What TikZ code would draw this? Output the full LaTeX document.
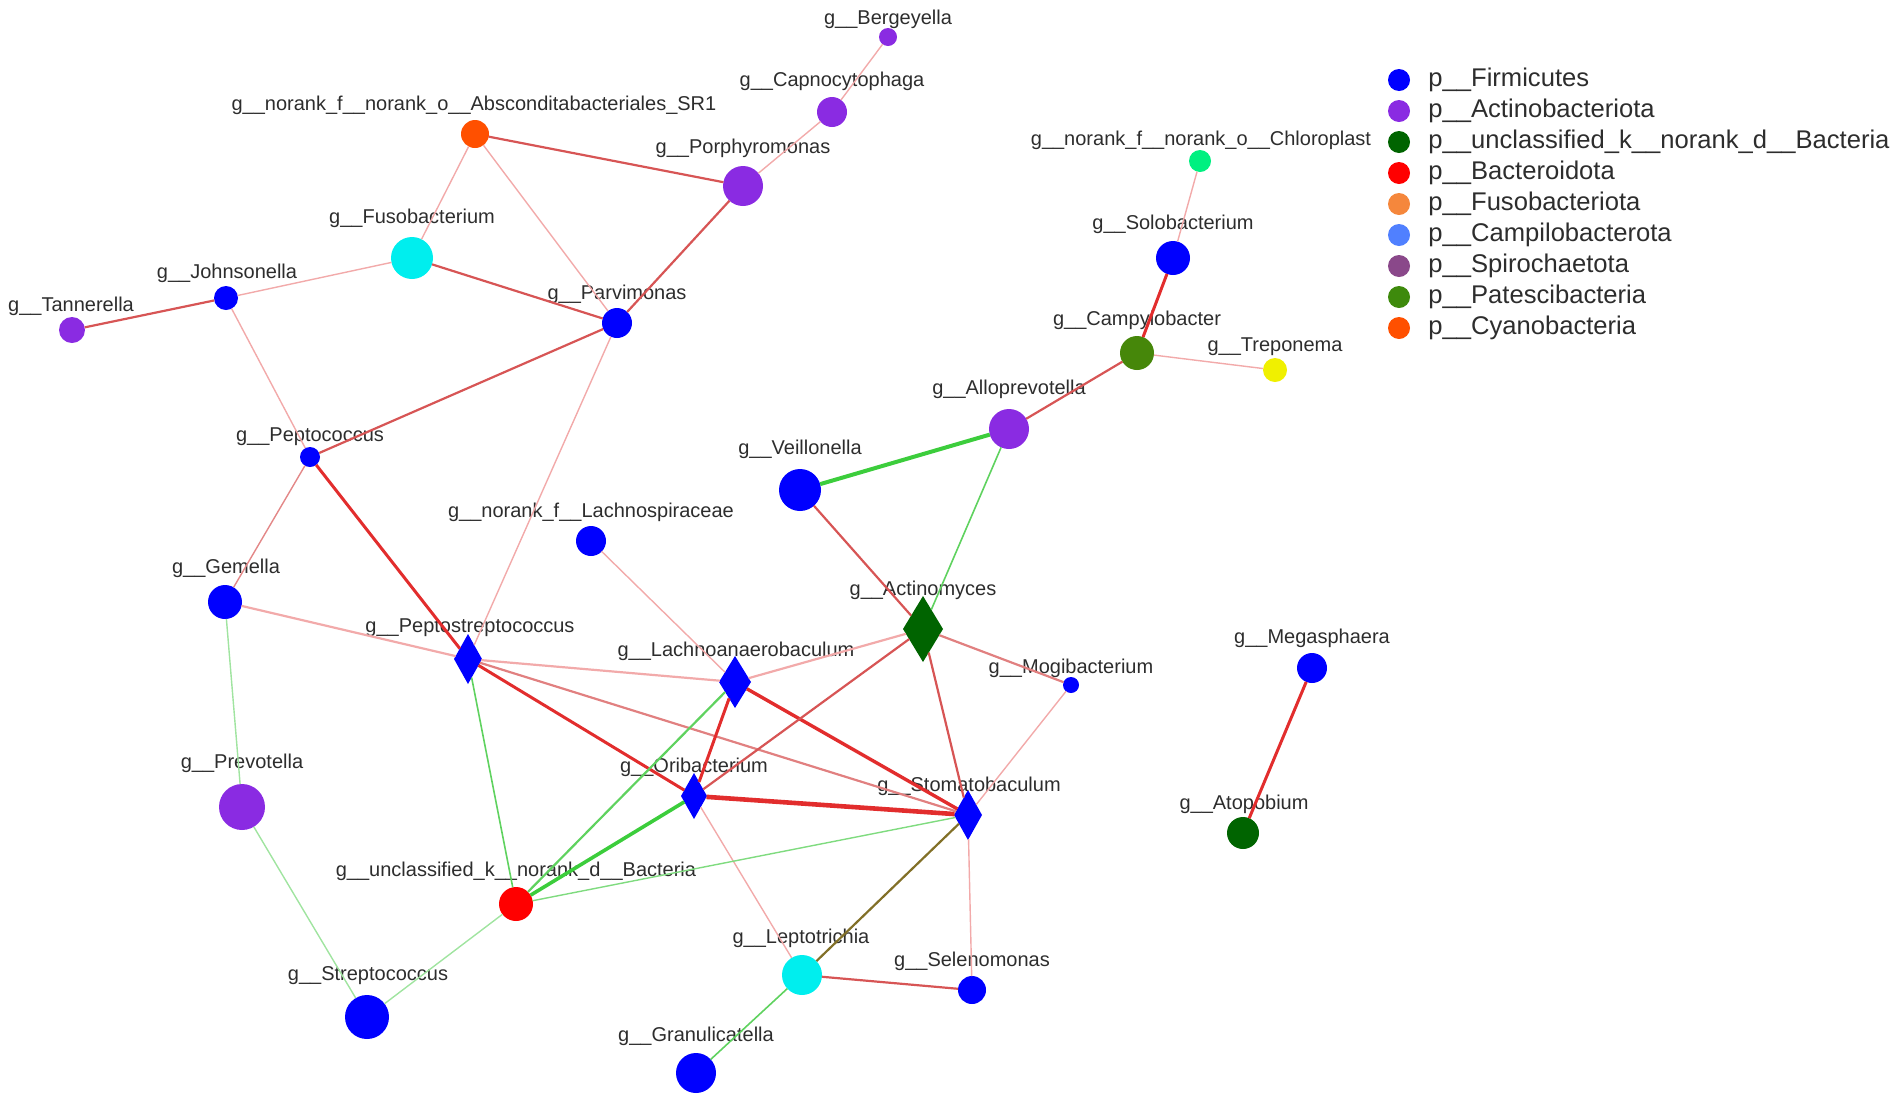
\documentclass[tikz,border=0pt]{standalone}
\usepackage{fontspec}
\setmainfont{Liberation Sans}
\usepackage{xcolor}
\usepackage{tikz}
\usetikzlibrary{shapes.geometric}

% Couleurs des phylums
\definecolor{firmi}{RGB}{0,0,255}
\definecolor{actino}{RGB}{138,43,226}
\definecolor{unclas}{RGB}{0,100,0}
\definecolor{bactero}{RGB}{255,0,0}
\definecolor{fusob}{RGB}{245,135,60}
\definecolor{campilo}{RGB}{80,128,255}
\definecolor{spiro}{RGB}{138,72,138}
\definecolor{pates}{RGB}{62,138,12}
\definecolor{cyano}{RGB}{255,80,0}
\definecolor{cyan2}{RGB}{0,238,238}
\definecolor{jaune}{RGB}{240,240,0}
\definecolor{printemps}{RGB}{0,240,128}
\definecolor{olive2}{RGB}{70,135,10}
\definecolor{texte}{RGB}{45,45,45}
% Couleurs des liens
\definecolor{rouge1}{RGB}{242,170,170}
\definecolor{rouge2}{RGB}{215,85,85}
\definecolor{rouge3}{RGB}{226,45,45}
\definecolor{vert1}{RGB}{160,228,160}
\definecolor{vert2}{RGB}{95,210,95}
\definecolor{vert3}{RGB}{60,205,60}
\definecolor{brun}{RGB}{130,112,40}

\tikzstyle{dot} = [circle, inner sep=0pt, outer sep=0pt]
\tikzstyle{losange} = [diamond, inner sep=0pt, outer sep=0pt]
\tikzstyle{lab} = [inner sep=0pt, text=texte, font=\fontsize{10pt}{12pt}\selectfont]
\tikzstyle{leg} = [anchor=base west, inner sep=0pt, text=texte, font=\fontsize{12.8pt}{15pt}\selectfont]
\tikzstyle{posfaible} = [draw=rouge1, line width=0.7pt]
\tikzstyle{posmoyen} = [draw=rouge2, line width=1.1pt]
\tikzstyle{posfort} = [draw=rouge3, line width=1.5pt]
\tikzstyle{negfaible} = [draw=vert1, line width=0.7pt]
\tikzstyle{negmoyen} = [draw=vert2, line width=1.1pt]
\tikzstyle{negfort} = [draw=vert3, line width=1.8pt]
\tikzstyle{mixte} = [draw=brun, line width=1.1pt]

\begin{document}
\begin{tikzpicture}[x=0.5pt, y=-0.5pt]

\useasboundingbox (0,0) rectangle (1902,1104);

% Noeuds (cercles)
\node[dot, fill=actino, minimum size=9pt] (berg) at (888,37) {};
\node[dot, fill=actino, minimum size=15pt] (capno) at (832,112) {};
\node[dot, fill=cyano, minimum size=14pt] (absc) at (475,134) {};
\node[dot, fill=actino, minimum size=20pt] (porph) at (743,186) {};
\node[dot, fill=cyan2, minimum size=21pt] (fuso) at (412,258) {};
\node[dot, fill=firmi, minimum size=12pt] (johns) at (226,298) {};
\node[dot, fill=actino, minimum size=13pt] (tann) at (72,330) {};
\node[dot, fill=firmi, minimum size=15pt] (parvi) at (617,323) {};
\node[dot, fill=firmi, minimum size=10pt] (pepto) at (310,457) {};
\node[dot, fill=printemps, minimum size=11pt] (chloro) at (1200,161) {};
\node[dot, fill=firmi, minimum size=17pt] (solo) at (1173,258) {};
\node[dot, fill=olive2, minimum size=17pt] (campy) at (1137,353) {};
\node[dot, fill=jaune, minimum size=12pt] (trepo) at (1275,370) {};
\node[dot, fill=actino, minimum size=20pt] (allo) at (1009,429) {};
\node[dot, fill=firmi, minimum size=21pt] (veill) at (800,490) {};
\node[dot, fill=firmi, minimum size=15pt] (lachno) at (591,541) {};
\node[dot, fill=firmi, minimum size=17pt] (gem) at (225,602) {};
\node[dot, fill=firmi, minimum size=8pt] (mogi) at (1071,685) {};
\node[dot, fill=firmi, minimum size=15pt] (mega) at (1312,668) {};
\node[dot, fill=unclas, minimum size=16pt] (atop) at (1243,833) {};
\node[dot, fill=actino, minimum size=23pt] (prev) at (242,807) {};
\node[dot, fill=bactero, minimum size=17pt] (uncl) at (516,904) {};
\node[dot, fill=cyan2, minimum size=20pt] (lepto) at (802,975) {};
\node[dot, fill=firmi, minimum size=14pt] (selen) at (972,990) {};
\node[dot, fill=firmi, minimum size=22pt] (strep) at (367,1017) {};
\node[dot, fill=firmi, minimum size=20pt] (granu) at (696,1073) {};

% Noeuds (losanges)
\node[losange, fill=unclas, minimum width=20pt, minimum height=33pt] (actm) at (923,629) {};
\node[losange, fill=firmi, minimum width=14pt, minimum height=25pt] (pstrep) at (468,659) {};
\node[losange, fill=firmi, minimum width=16pt, minimum height=26pt] (lanaer) at (735,682) {};
\node[losange, fill=firmi, minimum width=13pt, minimum height=23pt] (ori) at (694,796) {};
\node[losange, fill=firmi, minimum width=14pt, minimum height=25pt] (stoma) at (968,815) {};

% Etiquettes des genres
\node[lab] (berg-t) at (888,19) {g\_\_Bergeyella};
\node[lab] (capno-t) at (832,81) {g\_\_Capnocytophaga};
\node[lab] (absc-t) at (474,105) {g\_\_norank\_f\_\_norank\_o\_\_Absconditabacteriales\_SR1};
\node[lab] (porph-t) at (743,148) {g\_\_Porphyromonas};
\node[lab] (fuso-t) at (412,218) {g\_\_Fusobacterium};
\node[lab] (johns-t) at (227,273) {g\_\_Johnsonella};
\node[lab] (tann-t) at (71,306) {g\_\_Tannerella};
\node[lab] (parvi-t) at (617,294) {g\_\_Parvimonas};
\node[lab] (pepto-t) at (310,437) {g\_\_Peptococcus};
\node[lab] (chloro-t) at (1201,140) {g\_\_norank\_f\_\_norank\_o\_\_Chloroplast};
\node[lab] (solo-t) at (1173,224) {g\_\_Solobacterium};
\node[lab] (campy-t) at (1137,320) {g\_\_Campylobacter};
\node[lab] (trepo-t) at (1275,347) {g\_\_Treponema};
\node[lab] (allo-t) at (1009,389) {g\_\_Alloprevotella};
\node[lab] (veill-t) at (800,449) {g\_\_Veillonella};
\node[lab] (lachno-t) at (591,512) {g\_\_norank\_f\_\_Lachnospiraceae};
\node[lab] (gem-t) at (226,568) {g\_\_Gemella};
\node[lab] (actm-t) at (923,590) {g\_\_Actinomyces};
\node[lab] (pstrep-t) at (470,628) {g\_\_Peptostreptococcus};
\node[lab] (lanaer-t) at (736,651) {g\_\_Lachnoanaerobaculum};
\node[lab] (mogi-t) at (1071,668) {g\_\_Mogibacterium};
\node[lab] (mega-t) at (1312,638) {g\_\_Megasphaera};
\node[lab] (ori-t) at (694,767) {g\_\_Oribacterium};
\node[lab] (stoma-t) at (969,786) {g\_\_Stomatobaculum};
\node[lab] (atop-t) at (1244,804) {g\_\_Atopobium};
\node[lab] (prev-t) at (242,763) {g\_\_Prevotella};
\node[lab] (uncl-t) at (516,871) {g\_\_unclassified\_k\_\_norank\_d\_\_Bacteria};
\node[lab] (lepto-t) at (801,938) {g\_\_Leptotrichia};
\node[lab] (selen-t) at (972,961) {g\_\_Selenomonas};
\node[lab] (strep-t) at (368,976) {g\_\_Streptococcus};
\node[lab] (granu-t) at (696,1036) {g\_\_Granulicatella};

% Correlations positives (rouge)
\draw[posfaible] (berg) -- (capno);
\draw[posfaible] (capno) -- (porph);
\draw[posmoyen] (absc) -- (porph);
\draw[posfaible] (absc) -- (fuso);
\draw[posfaible] (absc) -- (parvi);
\draw[posmoyen] (porph) -- (parvi);
\draw[posmoyen] (fuso) -- (parvi);
\draw[posfaible] (fuso) -- (johns);
\draw[posmoyen] (johns) -- (tann);
\draw[posfaible] (johns) -- (pepto);
\draw[posmoyen] (parvi) -- (pepto);
\draw[posfaible] (parvi) -- (pstrep);
\draw[posfaible, draw=rouge2!70!white] (pepto) -- (gem);
\draw[posfort] (pepto) -- (pstrep);
\draw[posfaible, line width=1.1pt] (gem) -- (pstrep);
\draw[posfaible, line width=1.1pt] (pstrep) -- (lanaer);
\draw[posmoyen, draw=rouge2!75!white] (pstrep) -- (stoma);
\draw[posfort] (pstrep) -- (ori);
\draw[posfaible] (lachno) -- (lanaer);
\draw[posfaible, line width=1.1pt] (lanaer) -- (actm);
\draw[posfort] (lanaer) -- (ori);
\draw[posfort, line width=1.7pt] (lanaer) -- (stoma);
\draw[posmoyen] (ori) -- (actm);
\draw[posfort, line width=2.3pt] (ori) -- (stoma);
\draw[posfaible] (ori) -- (lepto);
\draw[posmoyen] (actm) -- (veill);
\draw[posmoyen, draw=rouge2!75!white] (actm) -- (mogi);
\draw[posmoyen] (actm) -- (stoma);
\draw[posfaible] (mogi) -- (stoma);
\draw[posfaible] (stoma) -- (selen);
\draw[posmoyen] (lepto) -- (selen);
\draw[posmoyen] (allo) -- (campy);
\draw[posfort] (campy) -- (solo);
\draw[posfaible] (campy) -- (trepo);
\draw[posfaible] (solo) -- (chloro);
\draw[posfort] (mega) -- (atop);

% Correlations negatives (vert)
\draw[negfaible] (gem) -- (prev);
\draw[negfaible] (prev) -- (strep);
\draw[negfaible] (strep) -- (uncl);
\draw[negmoyen, line width=0.8pt] (pstrep) -- (uncl);
\draw[negmoyen] (lanaer) -- (uncl);
\draw[negfort] (ori) -- (uncl);
\draw[negfaible, draw=vert2!80!white] (stoma) -- (uncl);
\draw[negmoyen, line width=0.8pt] (actm) -- (allo);
\draw[negmoyen, line width=0.8pt] (lepto) -- (granu);
\draw[negfort, line width=2pt] (veill) -- (allo);
\draw[mixte] (stoma) -- (lepto);

% Legende
\node[dot, fill=firmi, minimum size=11pt] (l1) at (1399,80) {};
\node[dot, fill=actino, minimum size=11pt] (l2) at (1399,111) {};
\node[dot, fill=unclas, minimum size=11pt] (l3) at (1399,142) {};
\node[dot, fill=bactero, minimum size=11pt] (l4) at (1399,173) {};
\node[dot, fill=fusob, minimum size=11pt] (l5) at (1399,204) {};
\node[dot, fill=campilo, minimum size=11pt] (l6) at (1399,235) {};
\node[dot, fill=spiro, minimum size=11pt] (l7) at (1399,266) {};
\node[dot, fill=pates, minimum size=11pt] (l8) at (1399,297) {};
\node[dot, fill=cyano, minimum size=11pt] (l9) at (1399,328) {};
\node[leg] (l1-t) at (1428,86) {p\_\_Firmicutes};
\node[leg] (l2-t) at (1428,117) {p\_\_Actinobacteriota};
\node[leg] (l3-t) at (1428,148) {p\_\_unclassified\_k\_\_norank\_d\_\_Bacteria};
\node[leg] (l4-t) at (1428,179) {p\_\_Bacteroidota};
\node[leg] (l5-t) at (1428,210) {p\_\_Fusobacteriota};
\node[leg] (l6-t) at (1428,241) {p\_\_Campilobacterota};
\node[leg] (l7-t) at (1428,272) {p\_\_Spirochaetota};
\node[leg] (l8-t) at (1428,303) {p\_\_Patescibacteria};
\node[leg] (l9-t) at (1428,334) {p\_\_Cyanobacteria};

\end{tikzpicture}
\end{document}
